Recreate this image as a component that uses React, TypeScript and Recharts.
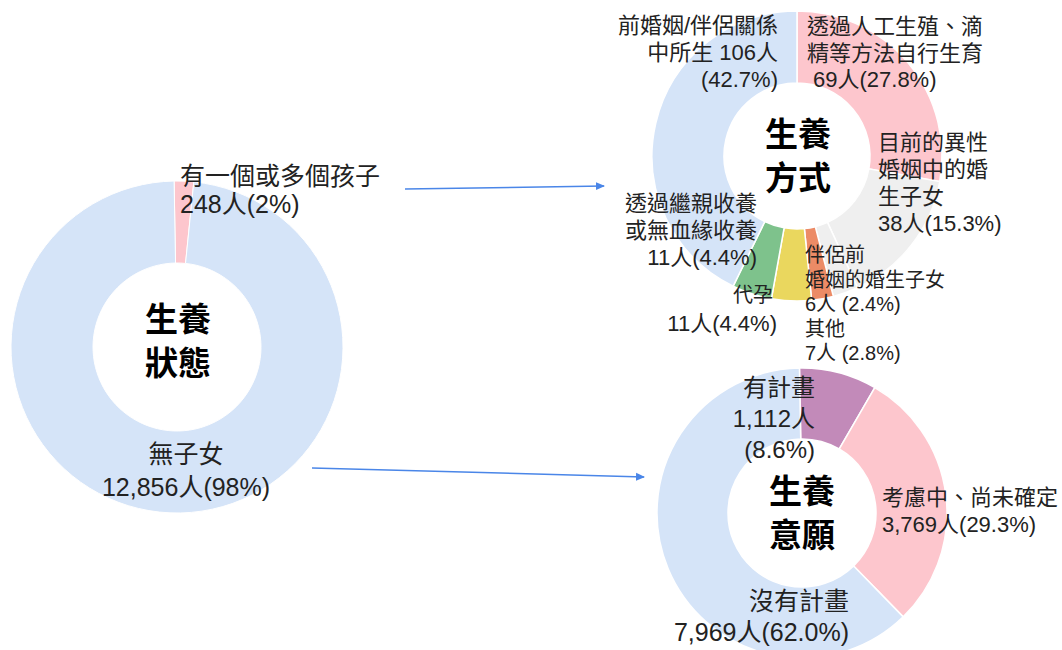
import React from "react";
import { PieChart, Pie, Cell } from "recharts";

// 生養狀態
const statusNames = ["有一個或多個孩子", "無子女"];
const statusValues = [248, 12856];
const statusColors = ["#fdc6cd", "#d5e4f8"];

// 生養方式
const methodNames = [
  "透過人工生殖、滴精等方法自行生育",
  "目前的異性婚姻中的婚生子女",
  "其他",
  "伴侶前婚姻的婚生子女",
  "代孕",
  "透過繼親收養或無血緣收養",
  "前婚姻/伴侶關係中所生",
];
const methodValues = [69, 38, 7, 6, 11, 11, 106];
const methodColors = ["#fdc6cd", "#efefef", "#efefef", "#ec8b66", "#ead75e", "#7ec28c", "#d5e4f8"];

// 生養意願
const planNames = ["有計畫", "考慮中、尚未確定", "沒有計畫"];
const planValues = [1112, 3769, 7969];
const planColors = ["#c28ab9", "#fdc6cd", "#d5e4f8"];

const toRows = (names: string[], values: number[]) =>
  names.map((name, i) => ({ name, value: values[i] }));

const FONT = "'Liberation Sans', 'Noto Sans CJK TC', sans-serif";

interface LabelProps {
  x: number;
  y: number;
  lines: string[];
  size?: number;
  gap?: number;
  anchor?: "start" | "middle" | "end";
  bold?: boolean;
}

// one <text> per line so the lines stay separate
function Label({ x, y, lines, size = 22, gap = 27, anchor = "start", bold }: LabelProps) {
  return (
    <g>
      {lines.map((line, i) => (
        <text
          key={i}
          x={x}
          y={y + i * gap}
          fontSize={size}
          textAnchor={anchor}
          fontFamily={bold ? "'Noto Sans CJK TC', sans-serif" : FONT}
          fontWeight={bold ? 700 : 400}
          fill={bold ? "#000" : "#222"}
        >
          {line}
        </text>
      ))}
    </g>
  );
}

export default function App() {
  return (
    <div style={{ position: "absolute", left: 0, top: 0, width: 1062, height: 650, background: "#fff", overflow: "hidden" }}>
      <PieChart width={1062} height={650} margin={{ top: 0, right: 0, bottom: 0, left: 0 }}>
        <Pie
          data={toRows(statusNames, statusValues)}
          dataKey="value"
          cx={177}
          cy={347}
          innerRadius={84}
          outerRadius={166}
          startAngle={91}
          endAngle={-269}
          stroke="#fff"
          strokeWidth={1}
          isAnimationActive={false}
        >
          {statusValues.map((_, i) => (
            <Cell key={i} fill={statusColors[i]} />
          ))}
        </Pie>
        <Pie
          data={toRows(methodNames, methodValues)}
          dataKey="value"
          cx={797}
          cy={156}
          innerRadius={73}
          outerRadius={145}
          startAngle={90}
          endAngle={-270}
          stroke="#fff"
          strokeWidth={1.5}
          isAnimationActive={false}
        >
          {methodValues.map((_, i) => (
            <Cell key={i} fill={methodColors[i]} />
          ))}
        </Pie>
        <Pie
          data={toRows(planNames, planValues)}
          dataKey="value"
          cx={802}
          cy={513}
          innerRadius={74}
          outerRadius={145}
          startAngle={91}
          endAngle={-269}
          stroke="#fff"
          strokeWidth={1.5}
          isAnimationActive={false}
        >
          {planValues.map((_, i) => (
            <Cell key={i} fill={planColors[i]} />
          ))}
        </Pie>
      </PieChart>

      <svg width={1062} height={650} style={{ position: "absolute", left: 0, top: 0 }}>
        <defs>
          <marker id="arrow" markerWidth="10" markerHeight="10" refX="8" refY="5" orient="auto" markerUnits="userSpaceOnUse">
            <path d="M0,1 L9,5 L0,9 Z" fill="#4a86e8" />
          </marker>
        </defs>
        <line x1={405} y1={189} x2={604} y2={186} stroke="#4a86e8" strokeWidth={1.5} markerEnd="url(#arrow)" />
        <line x1={312} y1={468} x2={644} y2={477} stroke="#4a86e8" strokeWidth={1.5} markerEnd="url(#arrow)" />

        {/* 生養狀態 */}
        <Label x={178} y={331} lines={["生養", "狀態"]} size={33} gap={44} anchor="middle" bold />
        <Label x={180} y={185} lines={["有一個或多個孩子", "248人(2%)"]} size={25} gap={28} />
        <Label x={186} y={463} lines={["無子女", "12,856人(98%)"]} size={25} gap={33} anchor="middle" />

        {/* 生養方式 */}
        <Label x={798} y={146} lines={["生養", "方式"]} size={33} gap={44} anchor="middle" bold />
        <Label x={778} y={33} lines={["前婚姻/伴侶關係", "中所生 106人", "(42.7%)"]} anchor="end" />
        <Label x={807} y={34} lines={["透過人工生殖、滴", "精等方法自行生育"]} />
        <Label x={813} y={87} lines={["69人(27.8%)"]} />
        <Label x={878} y={150} lines={["目前的異性", "婚姻中的婚", "生子女", "38人(15.3%)"]} />
        <Label x={757} y={211} lines={["透過繼親收養", "或無血緣收養", "11人(4.4%)"]} anchor="end" />
        <Label x={773} y={302} lines={["代孕"]} size={20} anchor="end" />
        <Label x={777} y={331} lines={["11人(4.4%)"]} anchor="end" />
        <Label x={805} y={262} lines={["伴侶前", "婚姻的婚生子女", "6人 (2.4%)", "其他", "7人 (2.8%)"]} size={20} gap={24.5} />

        {/* 生養意願 */}
        <Label x={802} y={503} lines={["生養", "意願"]} size={33} gap={44} anchor="middle" bold />
        <Label x={815} y={396} lines={["有計畫", "1,112人", "(8.6%)"]} size={24} gap={31} anchor="end" />
        <Label x={882} y={505} lines={["考慮中、尚未確定", "3,769人(29.3%)"]} gap={27} />
        <Label x={849} y={610} lines={["沒有計畫", "7,969人(62.0%)"]} size={25} gap={31} anchor="end" />
      </svg>
    </div>
  );
}
